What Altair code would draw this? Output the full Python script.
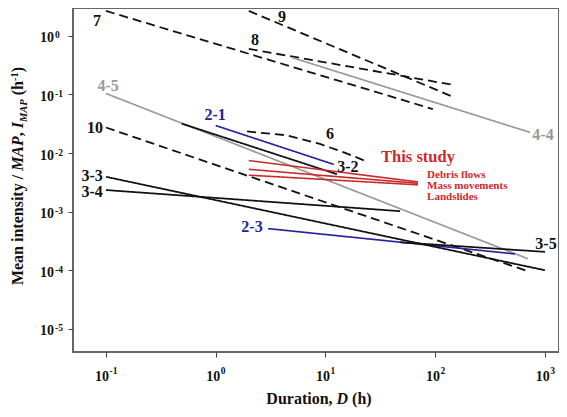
import altair as alt
import pandas as pd

# ---------------- data (D in h, I_MAP in 1/h) ----------------
TH7_D = [0.1, 95];        TH7_I = [2.67, 0.0564]
TH8_D = [2.0, 142];       TH8_I = [0.60, 0.147]
TH9_D = [2.0, 142];       TH9_I = [2.67, 0.0927]
TH6_D = [1.93, 4.46, 8.9, 15.1, 23.8]
TH6_I = [0.0234, 0.0201, 0.0143, 0.0101, 0.00718]
TH10_D = [0.1, 699];      TH10_I = [0.0273, 9.6e-5]
TH44_D = [4.95, 728];     TH44_I = [0.427, 0.0226]
TH45_D = [0.1, 699];      TH45_I = [0.104, 1.57e-4]
TH21_D = [1.0, 11.9];     TH21_I = [0.0295, 0.0064]
TH23_D = [3.0, 532];      TH23_I = [5.14e-4, 1.9e-4]
TH32_D = [0.49, 12.7];    TH32_I = [0.0318, 0.00436]
TH33_D = [0.1, 1000];     TH33_I = [0.00394, 1.0e-4]
TH34_D = [0.1, 47.7];     TH34_I = [0.00234, 0.00102]
TH35_D = [48, 1000];      TH35_I = [3.0e-4, 2.06e-4]
DEBRIS_D = [2.0, 69.6];   DEBRIS_I = [0.00745, 0.00322]
MASS_D = [2.0, 69.6];     MASS_I = [0.00529, 0.00304]
LAND_D = [2.0, 69.6];     LAND_I = [0.00420, 0.00287]

SERIES = [
    ("7", "dash", TH7_D, TH7_I), ("8", "dash", TH8_D, TH8_I), ("9", "dash", TH9_D, TH9_I),
    ("6", "dash", TH6_D, TH6_I), ("10", "dash", TH10_D, TH10_I),
    ("4-4", "gray", TH44_D, TH44_I), ("4-5", "gray", TH45_D, TH45_I),
    ("2-1", "blue", TH21_D, TH21_I), ("2-3", "blue", TH23_D, TH23_I),
    ("3-2", "black", TH32_D, TH32_I), ("3-3", "black", TH33_D, TH33_I),
    ("3-4", "black", TH34_D, TH34_I), ("3-5", "black", TH35_D, TH35_I),
    ("Debris flows", "red", DEBRIS_D, DEBRIS_I), ("Mass movements", "red", MASS_D, MASS_I),
    ("Landslides", "red", LAND_D, LAND_I),
]

LABEL_TEXT = ["7", "9", "8", "4-5", "10", "2-1", "6", "3-2", "4-4", "3-3", "3-4", "2-3", "3-5"]
LABEL_KIND = ["black", "black", "black", "gray", "black", "blue", "black", "black", "gray",
              "black", "black", "blue", "black"]
LABEL_D = [0.083, 4.02, 2.28, 0.1045, 0.0796, 0.986, 11.0, 16.0, 957, 0.0748, 0.0748, 2.14, 1019]
LABEL_I = [1.82, 2.12, 0.849, 0.141, 0.0273, 0.0449, 0.0209, 0.00571, 0.0201, 0.00404, 0.00220,
           5.54e-4, 2.79e-4]

STUDY_TEXT = ["This study"]; STUDY_D = [69.6]; STUDY_I = [0.00868]
TYPE_TEXT = ["Debris flows", "Mass movements", "Landslides"]
TYPE_D = [84.2, 84.2, 84.2]
TYPE_I = [0.00420, 0.00276, 0.00181]

X_TICKS = [0.1, 1, 10, 100, 1000]
X_EXP = ["-1", "0", "1", "2", "3"]
Y_TICKS = [1, 0.1, 0.01, 0.001, 1e-4, 1e-5]
Y_EXP = ["0", "-1", "-2", "-3", "-4", "-5"]

X_TITLE = ["Duration, ", "D", " (h)"]
Y_TITLE = ["Mean intensity / ", "MAP", ", ", "I", "MAP", " (h", "-1", ")"]

# ---------------- styling ----------------
FONT = "Liberation Serif"
KINDS = ["dash", "black", "gray", "blue", "red"]
COLORS = ["#111111", "#111111", "#9a9a9a", "#23239a", "#cc2a2a"]
DASHES = [[9, 5], [1, 0], [1, 0], [1, 0], [1, 0]]
WIDTHS = [1.8, 1.6, 1.5, 1.7, 2.2]

W, H = 486, 344
XDOM = [10 ** -1.300, 10 ** 3.127]
YDOM = [10 ** -5.395, 10 ** 0.476]

rows = []
for sid, kind, ds, vs in SERIES:
    for k, (d, v) in enumerate(zip(ds, vs)):
        rows.append({"id": sid, "kind": kind, "D": d, "I": v, "seq": k})
lines_df = pd.DataFrame(rows)

labels_df = pd.DataFrame({"t": LABEL_TEXT, "kind": LABEL_KIND, "D": LABEL_D, "I": LABEL_I})
study_df = pd.DataFrame({"t": STUDY_TEXT, "kind": ["red"], "D": STUDY_D, "I": STUDY_I})
types_df = pd.DataFrame({"t": TYPE_TEXT, "kind": ["red"] * 3, "D": TYPE_D, "I": TYPE_I})

X = alt.X("D:Q", scale=alt.Scale(type="log", domain=XDOM, nice=False),
          axis=alt.Axis(values=X_TICKS, labels=False, title=None, grid=False, domain=False,
                        ticks=True, tickSize=5, tickColor="#444", tickWidth=1))
Y = alt.Y("I:Q", scale=alt.Scale(type="log", domain=YDOM, nice=False),
          axis=alt.Axis(values=Y_TICKS, labels=False, title=None, grid=False, domain=False,
                        ticks=True, tickSize=5, tickColor="#444", tickWidth=1))
C = alt.Color("kind:N", scale=alt.Scale(domain=KINDS, range=COLORS), legend=None)

lines = alt.Chart(lines_df).mark_line(clip=True).encode(
    x=X, y=Y, color=C,
    strokeDash=alt.StrokeDash("kind:N", scale=alt.Scale(domain=KINDS, range=DASHES), legend=None),
    strokeWidth=alt.StrokeWidth("kind:N", scale=alt.Scale(domain=KINDS, range=WIDTHS), legend=None),
    detail="id:N", order="seq:Q",
)

labels = alt.Chart(labels_df).mark_text(font=FONT, fontWeight="bold", fontSize=16,
                                        align="center", baseline="middle").encode(
    x=X, y=Y, color=C, text="t:N")
study = alt.Chart(study_df).mark_text(font=FONT, fontWeight="bold", fontSize=16.5,
                                      align="center", baseline="middle").encode(
    x=X, y=Y, color=C, text="t:N")
types = alt.Chart(types_df).mark_text(font=FONT, fontWeight="bold", fontSize=11,
                                      align="left", baseline="middle").encode(
    x=X, y=Y, color=C, text="t:N")

# ---- tick labels: "10" with superscript exponent ----
TF, EF = 14, 9.5
w10 = TF * 1.0
XT_BASE = H + 29
xt_neg = pd.DataFrame({"D": [v for v, e in zip(X_TICKS, X_EXP) if e.startswith("-")],
                       "e": [e for e in X_EXP if e.startswith("-")]})
xt_pos = pd.DataFrame({"D": [v for v, e in zip(X_TICKS, X_EXP) if not e.startswith("-")],
                       "e": [e for e in X_EXP if not e.startswith("-")]})
tick_layers = []
for df, wexp in [(xt_neg, 0.833 * EF), (xt_pos, 0.5 * EF)]:
    tot = w10 + wexp
    tick_layers.append(alt.Chart(df).mark_text(font=FONT, fontWeight="bold", fontSize=TF,
                                               align="left", baseline="alphabetic",
                                               dx=-tot / 2, color="#111").encode(
        x=X, y=alt.value(XT_BASE), text=alt.value("10")))
    tick_layers.append(alt.Chart(df).mark_text(font=FONT, fontWeight="bold", fontSize=EF,
                                               align="left", baseline="alphabetic",
                                               dx=-tot / 2 + w10 + 0.5, color="#111").encode(
        x=X, y=alt.value(XT_BASE - 7), text="e:N"))
yt = pd.DataFrame({"I": Y_TICKS, "e": Y_EXP})
tick_layers.append(alt.Chart(yt).mark_text(font=FONT, fontWeight="bold", fontSize=TF,
                                           align="left", baseline="alphabetic", dy=6.5,
                                           color="#111").encode(
    y=Y, x=alt.value(-33), text=alt.value("10")))
tick_layers.append(alt.Chart(yt).mark_text(font=FONT, fontWeight="bold", fontSize=EF,
                                           align="left", baseline="alphabetic", dy=2.5,
                                           color="#111").encode(
    y=Y, x=alt.value(-33 + w10 + 1), text="e:N"))

# ---- axis titles built from pieces (italic parts, subscript, superscript) ----
BOLD = {" ": 250, "(": 333, ")": 333, ",": 250, "-": 333, "/": 278, "1": 500,
        "D": 722, "M": 944, "a": 500, "e": 444, "h": 556, "i": 278, "n": 556, "o": 500,
        "r": 444, "s": 389, "t": 333, "u": 556, "y": 500}
BOLDIT = {"M": 889, "A": 667, "P": 611, "I": 389, "D": 722}


def width(s, fs, italic=False):
    tab = BOLDIT if italic else BOLD
    return sum(tab.get(ch, 500) for ch in s) / 1000.0 * fs


TS = 16
SS = 10.5
# (text, italic, size, baseline shift)
y_spec = [(Y_TITLE[0], False, TS, 0), (Y_TITLE[1], True, TS, 0), (Y_TITLE[2], False, TS, 0),
          (Y_TITLE[3], True, TS, 0), (Y_TITLE[4], True, SS, 4), (Y_TITLE[5], False, TS, 0),
          (Y_TITLE[6], False, SS, -5.5), (Y_TITLE[7], False, TS, 0)]
x_spec = [(X_TITLE[0], False, TS, 0), (X_TITLE[1], True, TS, 0), (X_TITLE[2], False, TS, 0)]


def pieces(spec, **anchor):
    """Place title pieces one after another; leading blanks become offset (SVG drops them)."""
    out = []
    off = 0.0
    for t, it, s, sh in spec:
        lead = len(t) - len(t.lstrip(" "))
        off += width(" " * lead, s, it)
        body = t.strip(" ")
        out.append(alt.Chart(pd.DataFrame({"t": [body]})).mark_text(
            font=FONT, fontWeight="bold", fontStyle="italic" if it else "normal", fontSize=s,
            align="left", baseline="alphabetic", dx=off, dy=sh, color="#111",
            **anchor["mark"]).encode(x=alt.value(anchor["x"]), y=alt.value(anchor["y"]),
                                     text="t:N"))
        off += width(t.lstrip(" "), s, it)
    return out


y_total = sum(width(t, s, it) for t, it, s, _ in y_spec)
x_total = sum(width(t, s, it) for t, it, s, _ in x_spec)
title_layers = (
    pieces(y_spec, mark={"angle": 270}, x=-50, y=(176 - 8) + y_total / 2)
    + pieces(x_spec, mark={}, x=319 - 73 - x_total / 2, y=H + 52)
)

chart = alt.layer(lines, labels, study, types, *tick_layers, *title_layers).properties(
    width=W, height=H,
    padding={"left": 65, "top": 0, "right": 0, "bottom": 57},
    autosize=alt.AutoSizeParams(type="none"),
    background="white",
).configure_view(stroke="#666", strokeWidth=2)

chart.save("out.html", embed_options={"renderer": "svg", "actions": False})
